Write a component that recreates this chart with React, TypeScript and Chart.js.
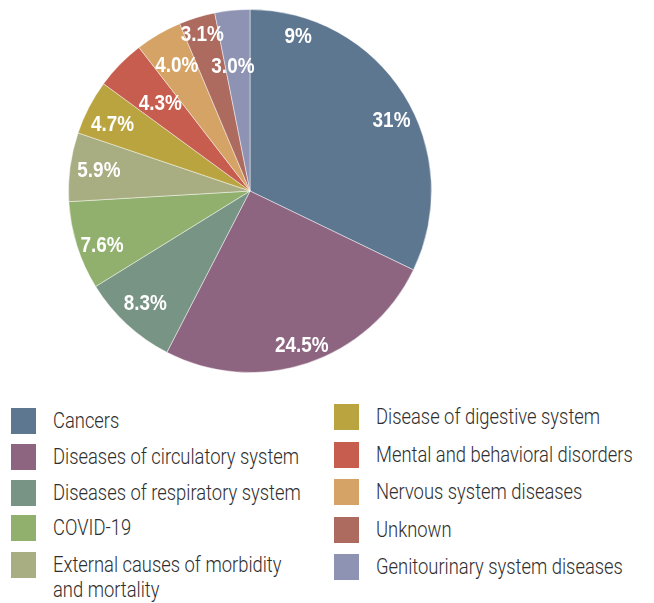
import React, { useEffect, useRef } from "react";
import { Chart, registerables } from "chart.js";

Chart.register(...registerables);

// ---- data ----
const categories = [
  "Cancers",
  "Diseases of circulatory system",
  "Diseases of respiratory system",
  "COVID-19",
  "External causes of morbidity and mortality",
  "Disease of digestive system",
  "Mental and behavioral disorders",
  "Nervous system diseases",
  "Unknown",
  "Genitourinary system diseases",
];
const values = [31, 24.5, 8.3, 7.6, 5.9, 4.7, 4.3, 4.0, 3.1, 3.0];
const valueLabels = ["31%", "24.5%", "8.3%", "7.6%", "5.9%", "4.7%", "4.3%", "4.0%", "3.1%", "3.0%"];
const extraLabelText = ["9%"];
const extraLabelSlice = [0];

// ---- styles / layout ----
const colors = [
  "#5e7791",
  "#8e6580",
  "#789485",
  "#91b06e",
  "#a8ae81",
  "#b9a43f",
  "#c65d4e",
  "#d4a365",
  "#ad6a5e",
  "#8e93b4",
];
const labelRadius = [0.87, 0.9, 0.85, 0.87, 0.84, 0.84, 0.69, 0.8, 0.9, 0.69];
const labelAngleFrac = [0.55, 0.5, 0.5, 0.4, 0.5, 0.4, 0.5, 0.5, 0.5, 0.3];
const extraAngleFrac = [0.15];
const extraRadius = [0.89];
const LABEL_FONT = '"Liberation Sans", Arial, sans-serif';
const LEGEND_FONT = 'Roboto, "Liberation Sans", sans-serif';
const LABEL_SQUEEZE = 0.86;
const LEGEND_SQUEEZE = 0.835;

const sliceLabels = {
  id: "sliceLabels",
  afterDatasetsDraw(chart: any) {
    const ctx = chart.ctx;
    const meta = chart.getDatasetMeta(0);
    ctx.save();
    ctx.fillStyle = "#ffffff";
    ctx.font = `bold 22px ${LABEL_FONT}`;
    ctx.textAlign = "center";
    ctx.textBaseline = "middle";
    const put = (arc: any, frac: number, rf: number, text: string) => {
      const a = arc.startAngle + (arc.endAngle - arc.startAngle) * frac;
      const r = arc.outerRadius * rf;
      ctx.save();
      ctx.translate(arc.x + Math.cos(a) * r, arc.y + Math.sin(a) * r);
      ctx.scale(LABEL_SQUEEZE, 1);
      ctx.fillText(text, 0, 0);
      ctx.restore();
    };
    meta.data.forEach((arc: any, i: number) => {
      put(arc, labelAngleFrac[i], labelRadius[i], valueLabels[i]);
    });
    extraLabelText.forEach((t, j) => {
      put(meta.data[extraLabelSlice[j]], extraAngleFrac[j], extraRadius[j], t);
    });
    ctx.restore();
  },
};

const col1Centers = [421, 457, 493, 528, 565];
const col2Centers = [417, 455, 492, 530, 567];

export default function App() {
  const ref = useRef<HTMLCanvasElement>(null);
  useEffect(() => {
    if (!ref.current) return;
    const chart = new Chart(ref.current, {
      type: "pie",
      data: {
        labels: categories,
        datasets: [
          {
            data: values,
            backgroundColor: colors,
            borderColor: "rgba(255,255,255,0.45)",
            borderWidth: 1,
          },
        ],
      },
      options: {
        animation: false,
        responsive: false,
        maintainAspectRatio: false,
        layout: { padding: 0 },
        plugins: { legend: { display: false }, tooltip: { enabled: false } },
      },
      plugins: [sliceLabels],
    });
    return () => chart.destroy();
  }, []);

  const legendItem = (i: number, left: number, center: number, textWidth: number) => (
    <div key={i}>
      <div
        style={{
          position: "absolute",
          left,
          top: center - 13,
          width: 25,
          height: 26,
          background: colors[i],
        }}
      />
      <div
        style={{
          position: "absolute",
          left: left + 42,
          top: center - 13,
          width: textWidth,
          font: `300 22px ${LEGEND_FONT}`,
          lineHeight: "25px",
          color: "#2e2e2e",
          transform: `scaleX(${LEGEND_SQUEEZE})`,
          transformOrigin: "0 0",
        }}
      >
        {categories[i]}
      </div>
    </div>
  );

  return (
    <div
      style={{
        position: "absolute",
        left: 0,
        top: 0,
        width: 654,
        height: 603,
        background: "#ffffff",
        overflow: "hidden",
      }}
    >
      <canvas
        ref={ref}
        width={364}
        height={364}
        style={{ position: "absolute", left: 68, top: 9, width: 364, height: 364 }}
      />
      {col1Centers.map((c, k) => legendItem(k, 11, c, 305))}
      {col2Centers.map((c, k) => legendItem(k + 5, 334, c, 400))}
    </div>
  );
}
